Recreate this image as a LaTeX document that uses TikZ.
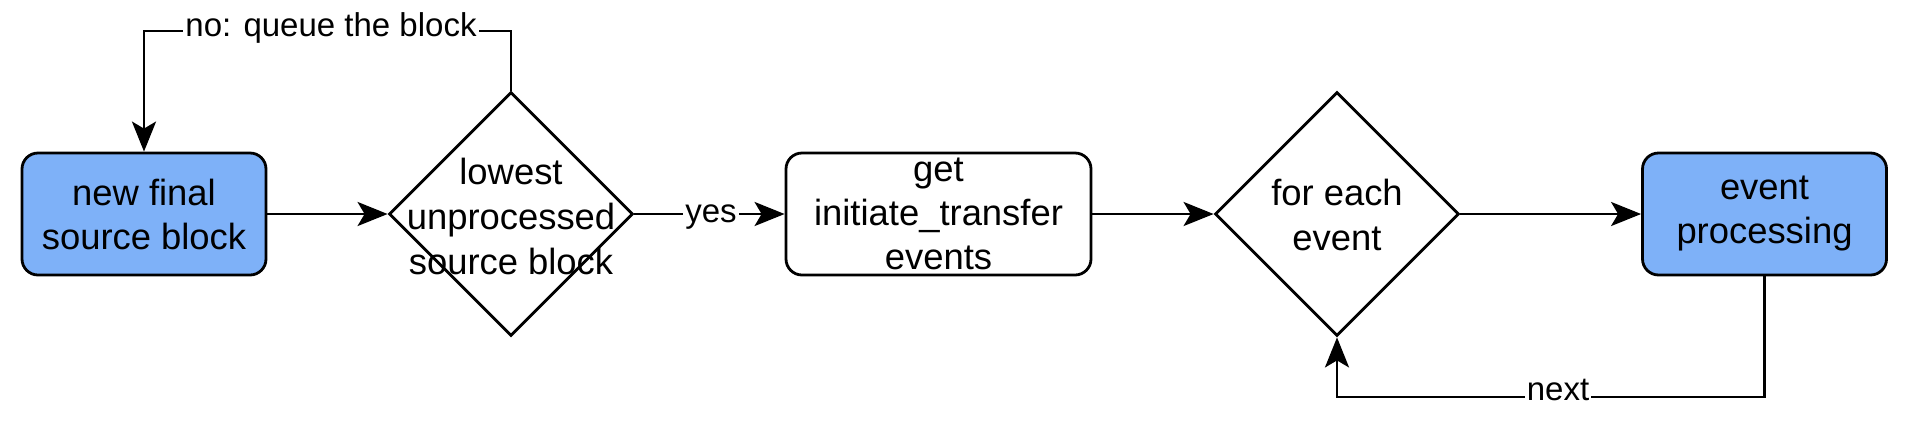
\documentclass[tikz,border=0pt]{standalone}
\usepackage{fontspec}
\setmainfont{Liberation Sans}
\usetikzlibrary{shapes.geometric,arrows.meta}
\definecolor{procblue}{HTML}{7EB1F8}
\tikzset{
  base/.style={draw=black, line width=1.4pt},
  procbox/.style={base, rounded corners=8pt, minimum width=122pt, minimum height=61pt, align=center, inner sep=0pt, font=\fontsize{18.2}{22}\selectfont},
  bluebox/.style={procbox, fill=procblue},
  whitebox/.style={procbox, fill=white},
  decision/.style={base, diamond, aspect=1, minimum width=122pt, minimum height=122pt, inner sep=0pt},
  dtext/.style={align=center, font=\fontsize{18.2}{22.5}\selectfont},
  conn/.style={line width=1.4pt, -{Stealth[length=15pt,width=12pt,inset=3.5pt]}},
  lbl/.style={fill=white, inner sep=1pt, anchor=base, font=\fontsize{16.5}{19}\selectfont}
}
\begin{document}
\begin{tikzpicture}[x=0.5pt,y=-0.5pt]
\useasboundingbox (0,0) rectangle (1916,430);
\node[bluebox] (b1) at (144,214) {new final\\source block};
\node[decision] (d1) at (511,214) {};
\node[dtext] (t1) at (511,216) {lowest\\unprocessed\\source block};
\node[whitebox, minimum width=152.5pt] (b2) at (938.5,214) {get\\initiate\_transfer\\events};
\node[decision] (d2) at (1337,214) {};
\node[dtext] (t2) at (1337,215) {for each\\event};
\node[bluebox] (b3) at (1764.5,214) {event\\processing};
\coordinate (c1) at (511,31);
\coordinate (c4) at (1337,397);
\draw[conn] (b1.east) -- (d1.west);
\draw[conn] (d1.east) -- (b2.west);
\node[lbl] (ly) at (711,222) {yes};
\draw[conn] (b2.east) -- (d2.west);
\draw[conn] (d2.east) -- (b3.west);
\draw[conn] (d1.north) -- (c1) -| (b1.north);
\node[lbl] (ln) at (331,36) {no: queue the block};
\draw[conn] (b3.south) |- (c4) -- (d2.south);
\node[lbl] (lx) at (1558,400) {next};
\end{tikzpicture}
\end{document}
